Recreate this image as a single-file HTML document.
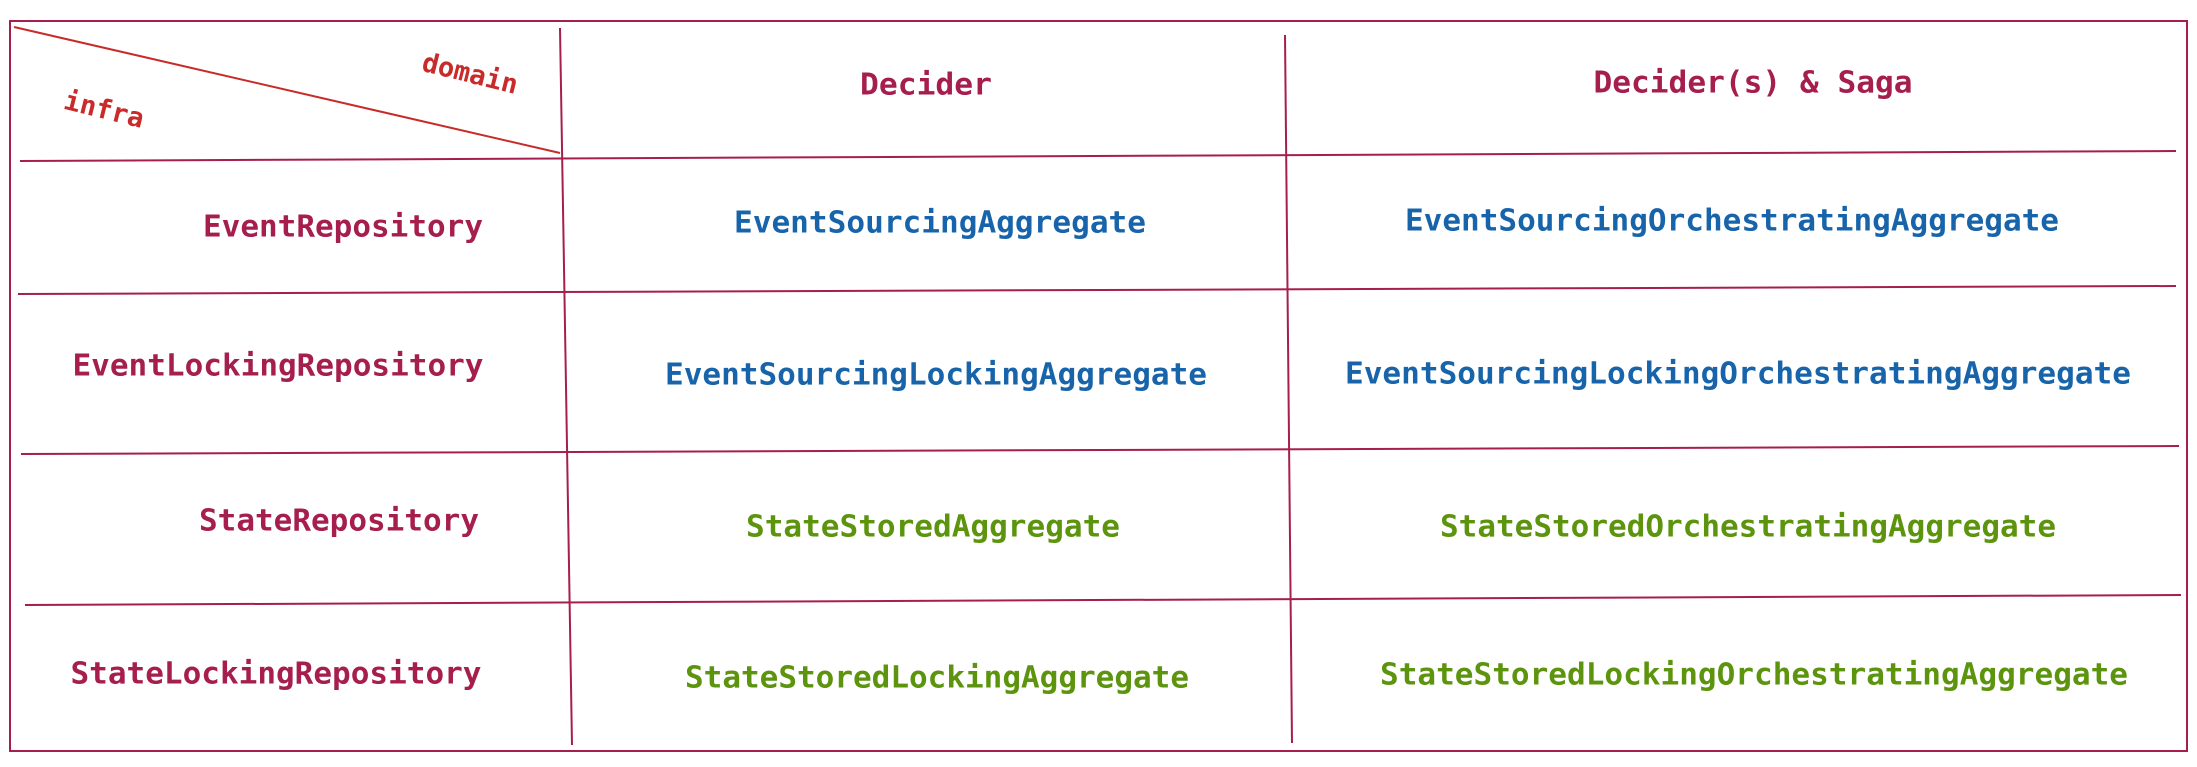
<!DOCTYPE html>
<html><head><meta charset="utf-8"><style>html,body{margin:0;padding:0;background:#fff}svg{display:block}</style></head>
<body>
<svg width="2197" height="767" viewBox="0 0 2197 767" xmlns="http://www.w3.org/2000/svg">
<g stroke="#a61e4d" stroke-width="2" fill="none">
<rect x="10" y="21" width="2177" height="730"/>
<line x1="560" y1="28" x2="572" y2="745"/>
<line x1="1285" y1="35" x2="1292" y2="743"/>
<line x1="20" y1="161" x2="2176" y2="151"/>
<line x1="18" y1="294" x2="2176" y2="286"/>
<line x1="21" y1="454" x2="2179" y2="446"/>
<line x1="25" y1="605" x2="2181" y2="595"/>
</g>
<line x1="14" y1="27" x2="560" y2="153" stroke="#c92a2a" stroke-width="2"/>
<g font-family="DejaVu Sans Mono, Liberation Mono, monospace" font-weight="bold" font-size="30" text-anchor="middle" dominant-baseline="central">
<text x="104" y="110" fill="#c92a2a" font-size="27" transform="rotate(14 104 110)">infra</text>
<text x="470" y="74" fill="#c92a2a" font-size="27" transform="rotate(14 470 74)">domain</text>
<g fill="#a61e4d">
<text x="926" y="85" textLength="132" lengthAdjust="spacingAndGlyphs">Decider</text>
<text x="1753" y="83" textLength="319" lengthAdjust="spacingAndGlyphs">Decider(s) &amp; Saga</text>
<text x="343" y="227" textLength="280" lengthAdjust="spacingAndGlyphs">EventRepository</text>
<text x="278" y="366" textLength="411" lengthAdjust="spacingAndGlyphs">EventLockingRepository</text>
<text x="339" y="521" textLength="280" lengthAdjust="spacingAndGlyphs">StateRepository</text>
<text x="276" y="674" textLength="411" lengthAdjust="spacingAndGlyphs">StateLockingRepository</text>
</g>
<g fill="#1864ab">
<text x="940" y="223" textLength="412" lengthAdjust="spacingAndGlyphs">EventSourcingAggregate</text>
<text x="936" y="375" textLength="542" lengthAdjust="spacingAndGlyphs">EventSourcingLockingAggregate</text>
<text x="1732" y="221" textLength="654" lengthAdjust="spacingAndGlyphs">EventSourcingOrchestratingAggregate</text>
<text x="1738" y="374" textLength="786" lengthAdjust="spacingAndGlyphs">EventSourcingLockingOrchestratingAggregate</text>
</g>
<g fill="#5c940d">
<text x="933" y="527" textLength="374" lengthAdjust="spacingAndGlyphs">StateStoredAggregate</text>
<text x="937" y="678" textLength="504" lengthAdjust="spacingAndGlyphs">StateStoredLockingAggregate</text>
<text x="1748" y="527" textLength="616" lengthAdjust="spacingAndGlyphs">StateStoredOrchestratingAggregate</text>
<text x="1754" y="675" textLength="748" lengthAdjust="spacingAndGlyphs">StateStoredLockingOrchestratingAggregate</text>
</g>
</g>
</svg>
</body></html>
